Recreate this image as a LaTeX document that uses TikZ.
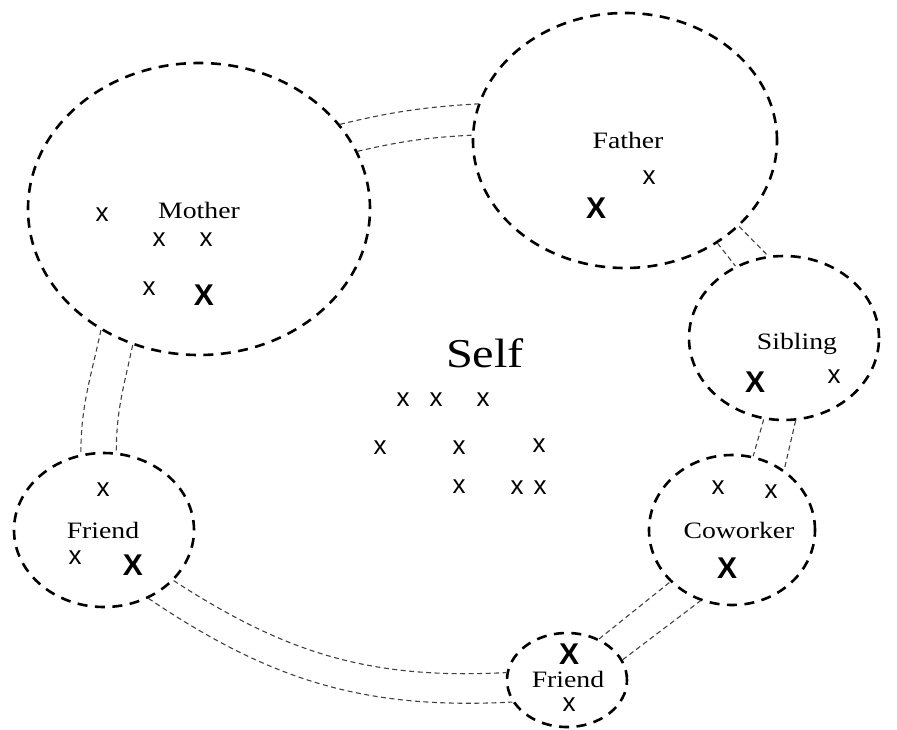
\documentclass[tikz,border=0pt]{standalone}
\usepackage{fontspec}
\setmainfont{Liberation Serif}
\newfontfamily\labfont[FakeStretch=1.18]{Liberation Serif}
\newfontfamily\markfont{Liberation Sans}
\usetikzlibrary{shapes.geometric}

\tikzset{
  zone/.style={ellipse, draw, line width=2.6pt, dash pattern=on 10pt off 7.5pt, inner sep=0pt},
  tie/.style={draw=black!75, line width=1.1pt, dash pattern=on 5pt off 3.5pt},
  lbl/.style={font=\labfont\fontsize{23.5}{28}\selectfont, inner sep=0pt},
  selflbl/.style={font=\labfont\fontsize{41}{46}\selectfont, inner sep=0pt},
  mk/.style={font=\markfont\fontsize{26}{28}\selectfont, inner sep=0pt},
  bigmk/.style={font=\markfont\bfseries\fontsize{30}{32}\selectfont, inner sep=0pt},
}

\begin{document}
\begin{tikzpicture}[x=1pt,y=1pt]
\useasboundingbox (0,0) rectangle (897,-729);

% circles of relationships
\node[zone, minimum width=342pt, minimum height=292pt] (mother)   at (199,-209) {};
\node[zone, minimum width=304pt, minimum height=255pt] (father)   at (625,-140.5) {};
\node[zone, minimum width=190pt, minimum height=164pt] (sibling)  at (784,-338) {};
\node[zone, minimum width=166pt, minimum height=150pt] (coworker) at (732,-530) {};
\node[zone, minimum width=180pt, minimum height=154pt] (friendA)  at (104,-530) {};
\node[zone, minimum width=120pt, minimum height=94pt]  (friendB)  at (567,-680) {};

% ties between the circles
\draw[tie] (mother.31.4) to[bend left=5] (father.166);
\draw[tie] (mother.20.7) to[bend left=5] (father.178);
\draw[tie] (father.312.4) -- (sibling.124.6);
\draw[tie] (father.323.7) -- (sibling.101.3);
\draw[tie] (sibling.256) -- (coworker.74.7);
\draw[tie] (sibling.278) -- (coworker.49.5);
\draw[tie] (mother.231.5) to[out=258,in=90] (friendA.107);
\draw[tie] (mother.244.4) to[out=258,in=90] (friendA.81);
\draw[tie] (friendA.324.8) to[out=-33,in=183] (friendB.173);
\draw[tie] (friendA.303.3) to[out=-34,in=183] (friendB.202.7);
\draw[tie] (friendB.52.9) -- (coworker.220.3);
\draw[tie] (friendB.20.6) -- (coworker.246.2);

% self
\node[selflbl] (self) at (485,-353) {Self};
\node[mk] (s1) at (403,-400) {x};
\node[mk] (s2) at (436,-400) {x};
\node[mk] (s3) at (483,-400) {x};
\node[mk] (s4) at (380,-448) {x};
\node[mk] (s5) at (459,-448) {x};
\node[mk] (s6) at (539,-446) {x};
\node[mk] (s7) at (459,-487) {x};
\node[mk] (s8) at (517,-488) {x};
\node[mk] (s9) at (540,-488) {x};

% mother
\node[lbl] (motherlbl) at (199,-210) {Mother};
\node[mk] (m1) at (102,-215) {x};
\node[mk] (m2) at (159,-240) {x};
\node[mk] (m3) at (206,-240) {x};
\node[mk] (m4) at (149,-289) {x};
\node[bigmk] (m5) at (204,-295) {X};

% father
\node[lbl] (fatherlbl) at (628,-140) {Father};
\node[mk] (f1) at (649,-178) {x};
\node[bigmk] (f2) at (596,-208) {X};

% sibling
\node[lbl] (siblinglbl) at (797,-344) {Sibling};
\node[bigmk] (b1) at (755,-382) {X};
\node[mk] (b2) at (834,-377) {x};

% coworker
\node[lbl] (coworkerlbl) at (739,-530) {Coworker};
\node[mk] (c1) at (718,-488) {x};
\node[mk] (c2) at (771,-492) {x};
\node[bigmk] (c3) at (727,-568) {X};

% friend on the left
\node[lbl] (friendAlbl) at (103,-530) {Friend};
\node[mk] (a1) at (103,-490) {x};
\node[mk] (a2) at (75,-558) {x};
\node[bigmk] (a3) at (133,-565) {X};

% friend at the bottom
\node[lbl] (friendBlbl) at (568,-679) {Friend};
\node[bigmk] (d1) at (569,-654) {X};
\node[mk] (d2) at (569,-705) {x};
\end{tikzpicture}
\end{document}
